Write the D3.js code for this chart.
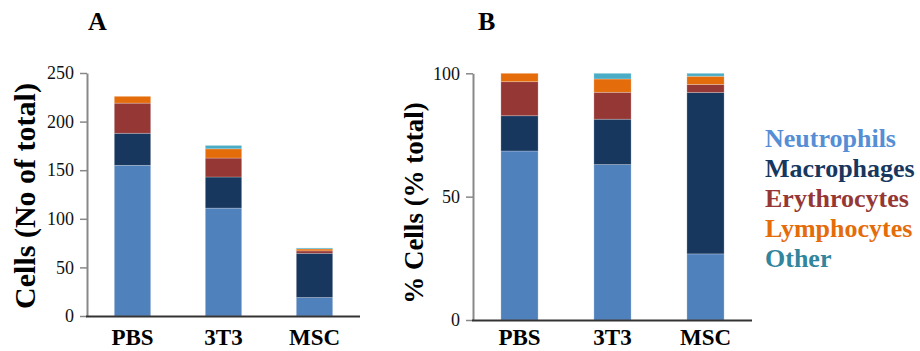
<!DOCTYPE html>
<html>
<head>
<meta charset="utf-8">
<script src="https://cdn.jsdelivr.net/npm/d3@7"></script>
<style>
  html, body { margin: 0; padding: 0; background: #fff; }
  svg { display: block; font-family: "Liberation Serif", "Times New Roman", serif; }
</style>
</head>
<body>
<svg id="chart" width="920" height="351"></svg>
<script>
// ---- data ----
const categories = ["PBS", "3T3", "MSC"];
const seriesNames = ["Neutrophils", "Macrophages", "Erythrocytes", "Lymphocytes", "Other"];

// Panel A: number of cells
const countNeutrophils  = [155, 111, 19];
const countMacrophages  = [33, 32, 45.5];
const countErythrocytes = [31, 19.5, 2.5];
const countLymphocytes  = [7, 9.5, 2];
const countOther        = [0, 3.5, 1];

// Panel B: % of total
const pctNeutrophils  = [68.5, 63, 26.8];
const pctMacrophages  = [14.3, 18.4, 65.4];
const pctErythrocytes = [13.8, 10.9, 3.3];
const pctLymphocytes  = [3.4, 5.4, 3.3];
const pctOther        = [0, 2.3, 1.2];

const ticksA = [0, 50, 100, 150, 200, 250];
const ticksB = [0, 50, 100];

const barColors  = ["#4f81bd", "#17375e", "#953735", "#e46c0a", "#4bacc6"];
const textColors = ["#558ed5", "#17375e", "#953735", "#e46c0a", "#31859c"];

const svg = d3.select("#chart");

function buildRows(arrays) {
  return categories.map((c, i) => {
    const r = { cat: c };
    seriesNames.forEach((s, k) => r[s] = arrays[k][i]);
    return r;
  });
}

function panel(opts) {
  const g = svg.append("g");
  const x = d3.scaleBand().domain(categories)
    .range([opts.x0, opts.x1]).paddingInner(0.6).paddingOuter(0.3);
  const y = d3.scaleLinear().domain(opts.domain).range([opts.y0, opts.y1]);

  const stack = d3.stack().keys(seriesNames)(opts.rows);
  g.selectAll("g.series").data(stack).join("g")
    .attr("fill", (d, i) => barColors[i])
    .selectAll("rect").data(d => d).join("rect")
    .attr("x", d => x(d.data.cat))
    .attr("width", x.bandwidth())
    .attr("y", d => y(d[1]))
    .attr("height", d => Math.max(0, y(d[0]) - y(d[1])))
    .attr("stroke", "rgba(255,255,255,0.3)")
    .attr("stroke-width", 0.8);

  // y axis
  const ya = g.append("g").attr("transform", `translate(${opts.x0},0)`)
    .call(d3.axisLeft(y).tickValues(opts.ticks).tickSize(7).tickPadding(6).tickSizeOuter(0));
  ya.select(".domain").attr("stroke", "#888").attr("stroke-width", 2);
  ya.selectAll(".tick line").attr("stroke", "#888").attr("stroke-width", 1.5);
  ya.selectAll(".tick text").attr("font-family", "Liberation Serif")
    .attr("font-size", 18).attr("fill", "#111");

  // x axis line
  g.append("line").attr("x1", opts.x0 - 1).attr("x2", opts.x1)
    .attr("y1", y(0) + 0.5).attr("y2", y(0) + 0.5)
    .attr("stroke", "#333").attr("stroke-width", 2);

  // category labels
  g.selectAll("text.cat").data(categories).join("text")
    .attr("class", "cat")
    .attr("x", d => x(d) + x.bandwidth() / 2)
    .attr("y", 345)
    .attr("text-anchor", "middle")
    .attr("font-size", 23).attr("font-weight", "bold").attr("fill", "#000")
    .text(d => d);

  // y title
  g.append("text")
    .attr("transform", `translate(${opts.titleX},${opts.titleY}) rotate(-90)`)
    .attr("text-anchor", "middle")
    .attr("font-size", opts.titleSize).attr("font-weight", "bold").attr("fill", "#000")
    .text(opts.title);

  // panel letter
  g.append("text").attr("x", opts.letterX).attr("y", 30)
    .attr("font-size", 26).attr("font-weight", "bold").attr("fill", "#000")
    .text(opts.letter);
}

panel({
  rows: buildRows([countNeutrophils, countMacrophages, countErythrocytes, countLymphocytes, countOther]),
  x0: 87, x1: 360, y0: 316, y1: 73, domain: [0, 250], ticks: ticksA,
  title: "Cells (No of total)", titleX: 35, titleY: 196, titleSize: 30,
  letter: "A", letterX: 88
});

panel({
  rows: buildRows([pctNeutrophils, pctMacrophages, pctErythrocytes, pctLymphocytes, pctOther]),
  x0: 473, x1: 752, y0: 320, y1: 73.3, domain: [0, 100], ticks: ticksB,
  title: "% Cells (% total)", titleX: 423, titleY: 203, titleSize: 27,
  letter: "B", letterX: 478
});

// legend
svg.append("g").selectAll("text").data(seriesNames).join("text")
  .attr("x", 765)
  .attr("y", (d, i) => 147 + i * 30)
  .attr("font-size", 26).attr("font-weight", "bold")
  .attr("fill", (d, i) => textColors[i])
  .text(d => d);
</script>
</body>
</html>
